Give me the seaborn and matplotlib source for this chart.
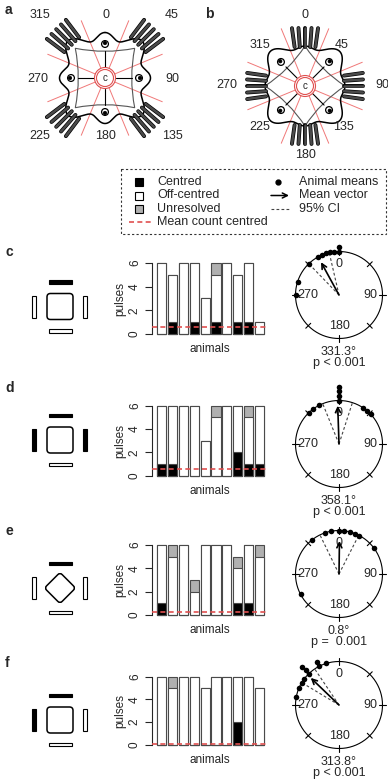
import numpy as np
import matplotlib
matplotlib.use('Agg')
import matplotlib.pyplot as plt
import matplotlib.patches as mpatches
import matplotlib.patheffects as pe
from matplotlib.path import Path
import seaborn as sns

sns.set_style('white')
plt.rcParams['font.family'] = ['Liberation Sans', 'DejaVu Sans']

# ---------------- data ----------------
animals = [str(i) for i in range(1, 11)]
panel_names = ['c', 'd', 'e', 'f']

c_centred = [0, 1, 0, 1, 0, 1, 0, 1, 1, 0]
c_off = [6, 4, 6, 5, 3, 4, 6, 4, 5, 1]
c_unres = [0, 0, 0, 0, 0, 1, 0, 0, 0, 0]

d_centred = [1, 1, 0, 0, 0, 0, 0, 2, 1, 1]
d_off = [5, 5, 6, 6, 3, 5, 6, 4, 4, 5]
d_unres = [0, 0, 0, 0, 0, 1, 0, 0, 1, 0]

e_centred = [1, 0, 0, 0, 0, 0, 0, 1, 1, 0]
e_off = [5, 5, 6, 2, 6, 6, 6, 3, 5, 5]
e_unres = [0, 1, 0, 1, 0, 0, 0, 1, 0, 1]

f_centred = [0, 0, 0, 0, 0, 0, 0, 2, 0, 0]
f_off = [6, 5, 6, 6, 5, 6, 6, 4, 6, 5]
f_unres = [0, 1, 0, 0, 0, 0, 0, 0, 0, 0]

mean_count_centred = [0.6, 0.6, 0.3, 0.1]
pulse_ticks = [0, 2, 4, 6]

c_angles = [270, 288, 316, 331, 337, 343, 348, 353, 0, 0]
d_angles = [316, 323, 333, 0, 0, 0, 0, 33, 40, 47]
e_angles = [242, 322, 341, 350, 0, 7, 14, 22, 28, 54]
f_angles = [280, 293, 301, 306, 316, 316, 316, 333, 333, 343]

mean_dir = [331.3, 358.1, 0.8, 313.8]
mean_dir_text = ['331.3°', '358.1°', '0.8°', '313.8°']
mean_len = [0.86, 0.88, 0.76, 0.90]
ci_low = [316, 338, 334, 301]
ci_high = [347, 18, 27, 326]
p_text = ['p < 0.001', 'p < 0.001', 'p =  0.001', 'p < 0.001']
circ_labels = ['0', '90', '180', '270']

labels_a = ['315', '0', '45', '270', '90', '225', '180', '135']
labels_b = ['0', '315', '45', '270', '90', '225', '135', '180']

legend_left = ['Centred', 'Off-centred', 'Unresolved', 'Mean count centred']
legend_right = ['Animal means', 'Mean vector', '95% CI']

# stimulus layout: top, left, right, bottom bars black?
stim_black = [(1, 0, 0, 0), (1, 1, 1, 0), (1, 0, 0, 0), (1, 1, 0, 0)]
stim_shape = ['square', 'square', 'diamond', 'square']

# ---------------- figure ----------------
W, H = 388, 782
fig = plt.figure(figsize=(W / 100, H / 100), dpi=100)
fig.patch.set_facecolor('white')


def fa(x0, y0, x1, y1):
    return [x0 / W, 1 - y1 / H, (x1 - x0) / W, (y1 - y0) / H]


axb = fig.add_axes([0, 0, 1, 1])
axb.set_xlim(0, W)
axb.set_ylim(H, 0)
axb.axis('off')

FS = 9


def P(cx, cy, th, r):
    t = np.radians(th)
    return cx + r * np.sin(t), cy - r * np.cos(t)


def schematic(cx, cy, rotated):
    eye_off = 45 if rotated else 0
    rod_off = 0 if rotated else 45
    for k in range(8):
        th = 22.5 + 45 * k
        x0, y0 = P(cx, cy, th, 11)
        x1, y1 = P(cx, cy, th, 62)
        axb.plot([x0, x1], [y0, y1], color='#f07878', lw=0.7, zorder=1)
    th = np.linspace(0, 360, 1441)
    phi = np.radians(th - eye_off)
    if rotated:
        A, B, C = 41.5, 4.5, 3.0
    else:
        A, B, C = 44.0, -3.5, 5.0
    r = A + B * np.cos(4 * phi) + C * np.cos(8 * phi)
    x, y = P(cx, cy, th, r)
    axb.plot(x, y, color='black', lw=1.1, zorder=3)
    rv = 40 if rotated else 42
    verts, codes = [], []
    for k in range(4):
        a0 = rod_off + 90 * k
        a1 = a0 + 90
        p0 = np.array(P(cx, cy, a0, rv))
        p1 = np.array(P(cx, cy, a1, rv))
        mid = (p0 + p1) / 2
        cen = np.array([cx, cy])
        ctrl = mid + (cen - mid) / np.linalg.norm(cen - mid) * 6
        if k == 0:
            verts.append(tuple(p0)); codes.append(Path.MOVETO)
        verts += [tuple(ctrl), tuple(p1)]
        codes += [Path.CURVE3, Path.CURVE3]
    axb.add_patch(mpatches.PathPatch(Path(verts, codes), fill=False,
                                     edgecolor='#555555', lw=0.8, zorder=2))
    for k in range(4):
        a = eye_off + 90 * k
        x0, y0 = P(cx, cy, a, 11)
        x1, y1 = P(cx, cy, a, 27)
        axb.plot([x0, x1], [y0, y1], color='black', lw=0.8, zorder=2)
        ex, ey = P(cx, cy, a, 34)
        axb.add_patch(mpatches.Circle((ex, ey), 3.4, facecolor='white',
                                      edgecolor='black', lw=0.9, zorder=4))
        ix, iy = P(cx, cy, a, 35)
        axb.add_patch(mpatches.Circle((ix, iy), 1.7, facecolor='black',
                                      edgecolor='black', lw=0.5, zorder=5))
    r0, L = (39, 19) if rotated else (47, 22)
    for k in range(4):
        a = rod_off + 90 * k
        t = np.radians(a)
        d = np.array([np.sin(t), -np.cos(t)])
        pvec = np.array([np.cos(t), np.sin(t)])
        for j in range(5):
            o = (j - 2) * 5.2
            tilt = np.radians((j - 2) * 4)
            dr = np.array([d[0] * np.cos(tilt) - d[1] * np.sin(tilt),
                           d[0] * np.sin(tilt) + d[1] * np.cos(tilt)])
            s = np.array([cx, cy]) + d * r0 + pvec * o
            e = s + dr * L
            axb.plot([s[0], e[0]], [s[1], e[1]], color='#4a4a4a', lw=1.8,
                     solid_capstyle='round', zorder=6,
                     path_effects=[pe.Stroke(linewidth=2.8, foreground='black'),
                                   pe.Normal()])
    for rr in (10.5, 8.5):
        axb.add_patch(mpatches.Circle((cx, cy), rr, fill=False,
                                      edgecolor='#e05050', lw=0.8, zorder=4))
    axb.text(cx, cy, 'c', fontsize=7, ha='center', va='center', zorder=5)


schematic(105, 78, rotated=False)
schematic(305, 86, rotated=True)

pos_a = [(40, 15), (106, 15), (172, 15), (38, 79), (172, 79), (40, 136), (106, 136), (172, 136)]
for t, (x, y) in zip(labels_a, pos_a):
    axb.text(x, y, t, fontsize=FS, ha='center', va='center')
pos_b = [(305, 15), (260, 45), (342, 45), (227, 85), (382, 85), (260, 127), (343, 127), (305, 155)]
for t, (x, y) in zip(labels_b, pos_b):
    axb.text(x, y, t, fontsize=FS, ha='center', va='center')

axb.text(5, 10, 'a', fontsize=10, fontweight='bold', ha='left', va='center')
axb.text(205, 14, 'b', fontsize=10, fontweight='bold', ha='left', va='center')

# ---------------- legend ----------------
axb.add_patch(mpatches.Rectangle((121, 169), 265, 65, fill=False, edgecolor='#333333',
                                 lw=0.8, linestyle=(0, (2, 2))))
rows = [182, 195.5, 209, 222]
sq_fc = ['black', 'white', '#b0b0b0']
for i, lab in enumerate(legend_left):
    y = rows[i]
    if i < 3:
        axb.add_patch(mpatches.Rectangle((135, y - 4), 8, 8, facecolor=sq_fc[i],
                                         edgecolor='black', lw=0.8))
    else:
        axb.plot([129, 151], [y, y], color='#e05050', lw=1.2, linestyle=(0, (3, 2)))
    axb.text(157, y, lab, fontsize=FS, ha='left', va='center')
for i, lab in enumerate(legend_right):
    y = rows[i]
    if i == 0:
        axb.plot([278], [y], 'o', color='black', ms=3.5)
    elif i == 1:
        axb.annotate('', xy=(289, y), xytext=(271, y),
                     arrowprops=dict(arrowstyle='->', lw=1.1, color='black',
                                     shrinkA=0, shrinkB=0, mutation_scale=9))
    else:
        axb.plot([271, 289], [y, y], color='#444444', lw=0.8, linestyle=(0, (2.5, 2)))
    axb.text(299, y, lab, fontsize=FS, ha='left', va='center')

# ---------------- rows c-f ----------------
centred_all = [c_centred, d_centred, e_centred, f_centred]
off_all = [c_off, d_off, e_off, f_off]
unres_all = [c_unres, d_unres, e_unres, f_unres]
angles_all = [c_angles, d_angles, e_angles, f_angles]

bar_y = [(334, 263), (475.7, 405.7), (615, 545), (745, 676.7)]
label_y = [252, 388, 531, 663]
icon_c = [(60, 306.5), (60, 440), (60, 588), (60, 720)]
circ_c = [(339, 295), (339, 444), (339, 574), (339, 705)]

BX0, BX1 = 152, 268
pitch = 10.9
first_center = 161.5

for i in range(4):
    axb.text(5, label_y[i], panel_names[i], fontsize=10, fontweight='bold',
             ha='left', va='center')

    cx, cy = icon_c[i]
    tb, lb, rb, bb = stim_black[i]
    bl, bt = 23, 3.8
    for fill, (x, y, w, h) in zip(
            [tb, lb, rb, bb],
            [(cx - bl / 2, cy - 24.5 - bt / 2, bl, bt),
             (cx - 26 - bt / 2, cy - bl / 2 + 0.5, bt, bl - 1),
             (cx + 25 - bt / 2, cy - bl / 2 + 0.5, bt, bl - 1),
             (cx - bl / 2, cy + 24.5 - bt / 2, bl, bt)]):
        axb.add_patch(mpatches.Rectangle((x, y), w, h,
                                         facecolor='black' if fill else 'white',
                                         edgecolor='black', lw=0.8))
    if stim_shape[i] == 'square':
        axb.add_patch(mpatches.FancyBboxPatch((cx - 9.5, cy - 9.5), 19, 19,
                                              boxstyle='round,pad=3.5',
                                              fill=False, edgecolor='black', lw=1.1))
    else:
        sq = mpatches.FancyBboxPatch((-8, -8), 16, 16, boxstyle='round,pad=3',
                                     fill=False, edgecolor='black', lw=1.1)
        tr = matplotlib.transforms.Affine2D().rotate_deg(45).translate(cx, cy) + axb.transData
        sq.set_transform(tr)
        axb.add_patch(sq)

    y0, y6 = bar_y[i]
    u = (y0 - y6) / 6
    ax = fig.add_axes(fa(BX0, y6 - 0.3 * u, BX1, y0 + 0.3 * u))
    ax.patch.set_alpha(0)
    cen = np.array(centred_all[i])
    off = np.array(off_all[i])
    unr = np.array(unres_all[i])
    common = dict(ax=ax, edgecolor='#4a4a4a', linewidth=0.8, width=0.83,
                  saturation=1, errorbar=None, order=animals)
    sns.barplot(x=animals, y=cen + off + unr, color='#b0b0b0', **common)
    sns.barplot(x=animals, y=cen + off, color='white', **common)
    sns.barplot(x=animals, y=cen, color='black', **common)
    ax.set_xlim((BX0 - first_center) / pitch, (BX1 - first_center) / pitch)
    ax.set_ylim(-0.3, 6.3)
    ax.axhline(mean_count_centred[i], color='#e05050', lw=1.2,
               linestyle=(0, (3, 2)), zorder=10)
    for s in ['top', 'right', 'bottom']:
        ax.spines[s].set_visible(False)
    ax.spines['left'].set_bounds(0, 6)
    ax.spines['left'].set_linewidth(0.8)
    ax.set_xticks([])
    ax.set_yticks(pulse_ticks)
    ax.set_yticklabels([str(t) for t in pulse_ticks], rotation=90, va='center')
    ax.tick_params(axis='y', direction='out', length=5, width=0.8, pad=3,
                   labelsize=8.5, left=True)
    ax.set_ylabel('pulses', fontsize=8.5, labelpad=2)
    ax.set_xlabel('animals', fontsize=8.5, labelpad=4)
    ax.grid(False)

    ccx, ccy = circ_c[i]
    R = 43.5
    Hh = 66
    cax = fig.add_axes(fa(ccx - Hh, ccy - Hh, ccx + Hh, ccy + Hh))
    cax.set_xlim(-Hh / R, Hh / R)
    cax.set_ylim(-Hh / R, Hh / R)
    cax.axis('off')
    cax.patch.set_alpha(0)
    tt = np.linspace(0, 2 * np.pi, 400)
    cax.plot(np.cos(tt), np.sin(tt), color='black', lw=0.8)
    for a in range(0, 360, 45):
        s_, c_ = np.sin(np.radians(a)), np.cos(np.radians(a))
        cax.plot([0.92 * s_, 1.08 * s_], [0.92 * c_, 1.08 * c_], color='black', lw=0.8)
    for lab, a in zip(circ_labels, [0, 90, 180, 270]):
        cax.text(0.72 * np.sin(np.radians(a)), 0.72 * np.cos(np.radians(a)), lab,
                 fontsize=FS, ha='center', va='center')
    for a in (ci_low[i], ci_high[i]):
        cax.plot([0, np.sin(np.radians(a))], [0, np.cos(np.radians(a))],
                 color='#444444', lw=0.8, linestyle=(0, (2.5, 2)))
    counts = {}
    xs, ys = [], []
    for a in angles_all[i]:
        k = counts.get(a, 0)
        counts[a] = k + 1
        rr = 1 + k * 0.105
        xs.append(rr * np.sin(np.radians(a)))
        ys.append(rr * np.cos(np.radians(a)))
    sns.scatterplot(x=xs, y=ys, ax=cax, color='black', s=16, linewidth=0,
                    legend=False, zorder=5, clip_on=False)
    md = np.radians(mean_dir[i])
    cax.annotate('', xy=(mean_len[i] * np.sin(md), mean_len[i] * np.cos(md)),
                 xytext=(0, 0),
                 arrowprops=dict(arrowstyle='->', lw=1.2, color='black',
                                 shrinkA=0, shrinkB=0, mutation_scale=9))
    cax.text(0, -57 / R, mean_dir_text[i], fontsize=FS, ha='center', va='center')
    cax.text(0, -68 / R, p_text[i], fontsize=FS, ha='center', va='center')

fig.savefig('out.png', dpi=100, facecolor='white')
